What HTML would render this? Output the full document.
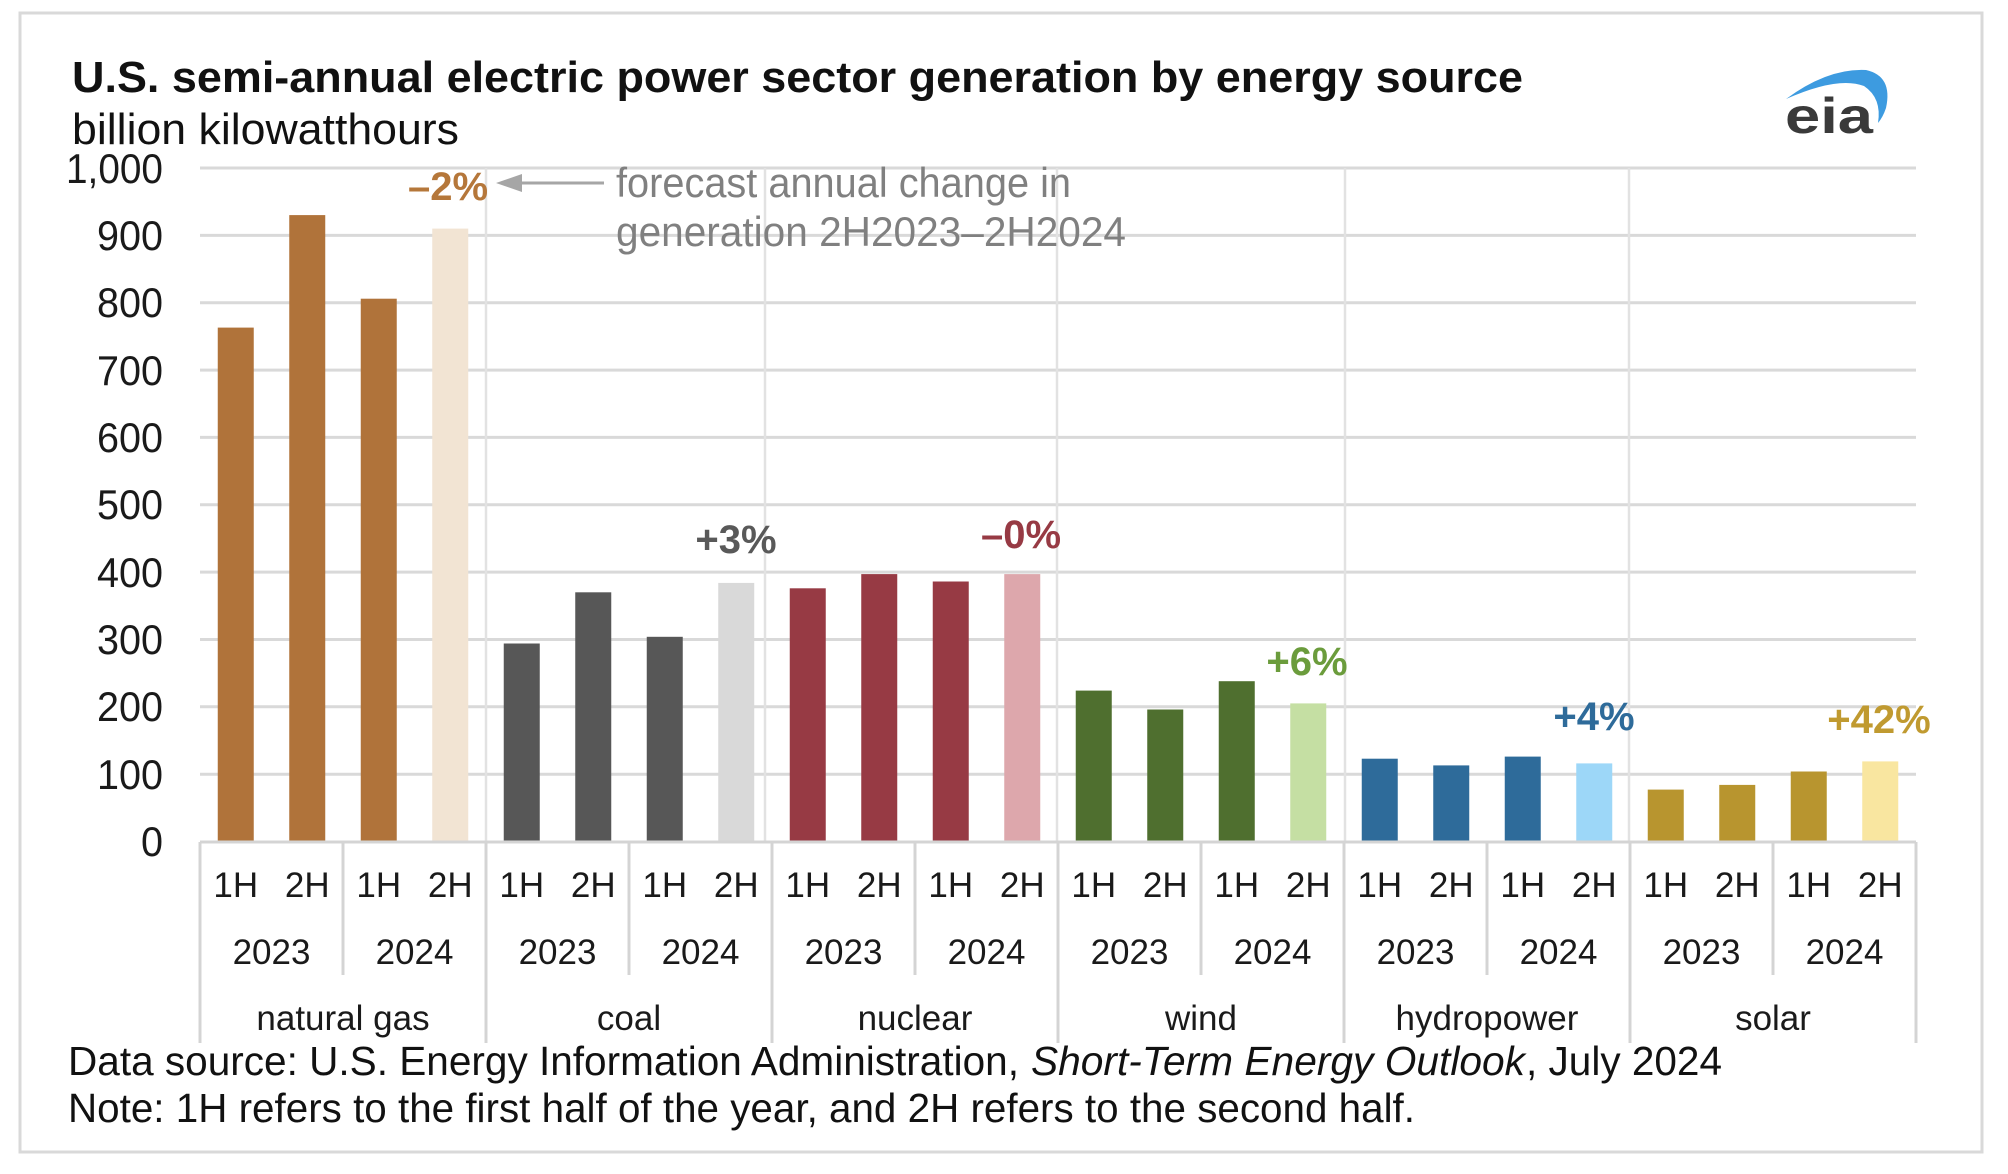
<!DOCTYPE html>
<html><head><meta charset="utf-8"><style>
html,body{margin:0;padding:0;background:#fff;}
svg{display:block;}
text{font-family:"Liberation Sans",Arial,sans-serif;}
</style></head><body>
<svg width="2008" height="1174" viewBox="0 0 2008 1174" xmlns="http://www.w3.org/2000/svg">
<rect x="0" y="0" width="2008" height="1174" fill="#fff"/>
<rect x="20" y="13" width="1962" height="1139" fill="#fff" stroke="#d9d9d9" stroke-width="3"/>

<!-- title -->
<text x="72" y="92" font-size="44" font-weight="bold" fill="#111" textLength="1451" lengthAdjust="spacingAndGlyphs">U.S. semi-annual electric power sector generation by energy source</text>
<text x="72" y="144" font-size="44" fill="#111" textLength="387" lengthAdjust="spacingAndGlyphs">billion kilowatthours</text>

<!-- eia logo -->
<path d="M1786,99 Q1828,68 1866,70 Q1893,76 1886,108 Q1883,117 1878,123 Q1882,98 1864,86 Q1838,76 1786,99 Z" fill="#3d9be0"/>
<text x="1785" y="133" font-size="50" font-weight="bold" fill="#3a3a3a" textLength="88" lengthAdjust="spacingAndGlyphs">eia</text>

<!-- horizontal gridlines -->
<g stroke="#d9d9d9" stroke-width="3">
<line x1="200" y1="168" x2="1916" y2="168"/>
<line x1="200" y1="235.4" x2="1916" y2="235.4"/>
<line x1="200" y1="302.7" x2="1916" y2="302.7"/>
<line x1="200" y1="370.1" x2="1916" y2="370.1"/>
<line x1="200" y1="437.4" x2="1916" y2="437.4"/>
<line x1="200" y1="504.8" x2="1916" y2="504.8"/>
<line x1="200" y1="572.1" x2="1916" y2="572.1"/>
<line x1="200" y1="639.5" x2="1916" y2="639.5"/>
<line x1="200" y1="706.8" x2="1916" y2="706.8"/>
<line x1="200" y1="774.2" x2="1916" y2="774.2"/>
</g>
<!-- vertical gridlines in plot -->
<g stroke="#e2e2e2" stroke-width="2.5">
<line x1="486" y1="168" x2="486" y2="842"/>
<line x1="765" y1="168" x2="765" y2="842"/>
<line x1="1057" y1="168" x2="1057" y2="842"/>
<line x1="1345" y1="168" x2="1345" y2="842"/>
<line x1="1629" y1="168" x2="1629" y2="842"/>
</g>

<!-- y labels -->
<g font-size="42" fill="#1a1a1a" text-anchor="end">
<text x="163" y="183" textLength="97" lengthAdjust="spacingAndGlyphs">1,000</text>
<text x="163" y="250" textLength="66" lengthAdjust="spacingAndGlyphs">900</text>
<text x="163" y="317" textLength="66" lengthAdjust="spacingAndGlyphs">800</text>
<text x="163" y="385" textLength="66" lengthAdjust="spacingAndGlyphs">700</text>
<text x="163" y="452" textLength="66" lengthAdjust="spacingAndGlyphs">600</text>
<text x="163" y="519" textLength="66" lengthAdjust="spacingAndGlyphs">500</text>
<text x="163" y="587" textLength="66" lengthAdjust="spacingAndGlyphs">400</text>
<text x="163" y="654" textLength="66" lengthAdjust="spacingAndGlyphs">300</text>
<text x="163" y="721" textLength="66" lengthAdjust="spacingAndGlyphs">200</text>
<text x="163" y="789" textLength="66" lengthAdjust="spacingAndGlyphs">100</text>
<text x="163" y="856" textLength="22" lengthAdjust="spacingAndGlyphs">0</text>
</g>

<!-- bars -->
<g>
<rect x="217.75" y="327.6" width="36" height="514.4" fill="#b0733a"/>
<rect x="289.25" y="215.1" width="36" height="626.9" fill="#b0733a"/>
<rect x="360.75" y="298.7" width="36" height="543.3" fill="#b0733a"/>
<rect x="432.25" y="228.6" width="36" height="613.4" fill="#f2e4d3"/>

<rect x="503.75" y="643.5" width="36" height="198.5" fill="#575757"/>
<rect x="575.25" y="592.3" width="36" height="249.7" fill="#575757"/>
<rect x="646.75" y="636.8" width="36" height="205.2" fill="#575757"/>
<rect x="718.25" y="582.9" width="36" height="259.1" fill="#d9d9d9"/>

<rect x="789.75" y="588.3" width="36" height="253.7" fill="#973a44"/>
<rect x="861.25" y="574.1" width="36" height="267.9" fill="#973a44"/>
<rect x="932.75" y="581.5" width="36" height="260.5" fill="#973a44"/>
<rect x="1004.25" y="574.1" width="36" height="267.9" fill="#dda7ac"/>

<rect x="1075.75" y="690.6" width="36" height="151.4" fill="#4f6f2f"/>
<rect x="1147.25" y="709.5" width="36" height="132.5" fill="#4f6f2f"/>
<rect x="1218.75" y="681.2" width="36" height="160.8" fill="#4f6f2f"/>
<rect x="1290.25" y="703.4" width="36" height="138.6" fill="#c5dfa3"/>

<rect x="1361.75" y="758.7" width="36" height="83.3" fill="#2e6b9a"/>
<rect x="1433.25" y="765.4" width="36" height="76.6" fill="#2e6b9a"/>
<rect x="1504.75" y="756.6" width="36" height="85.4" fill="#2e6b9a"/>
<rect x="1576.25" y="763.4" width="36" height="78.6" fill="#9dd7f8"/>

<rect x="1647.75" y="789.6" width="36" height="52.4" fill="#b8952f"/>
<rect x="1719.25" y="784.9" width="36" height="57.1" fill="#b8952f"/>
<rect x="1790.75" y="771.5" width="36" height="70.5" fill="#b8952f"/>
<rect x="1862.25" y="761.4" width="36" height="80.6" fill="#f9e6a0"/>
</g>

<!-- axis line and ticks -->
<g stroke="#d4d4d4" stroke-width="3">
<line x1="200" y1="842" x2="1916" y2="842"/>
<line x1="200" y1="842" x2="200" y2="1043"/>
<line x1="486" y1="842" x2="486" y2="1043"/>
<line x1="772" y1="842" x2="772" y2="1043"/>
<line x1="1058" y1="842" x2="1058" y2="1043"/>
<line x1="1344" y1="842" x2="1344" y2="1043"/>
<line x1="1630" y1="842" x2="1630" y2="1043"/>
<line x1="1916" y1="842" x2="1916" y2="1043"/>
<line x1="343" y1="842" x2="343" y2="975"/>
<line x1="629" y1="842" x2="629" y2="975"/>
<line x1="915" y1="842" x2="915" y2="975"/>
<line x1="1201" y1="842" x2="1201" y2="975"/>
<line x1="1487" y1="842" x2="1487" y2="975"/>
<line x1="1773" y1="842" x2="1773" y2="975"/>
</g>

<!-- x labels -->
<g font-size="35" fill="#1a1a1a" text-anchor="middle">
<text x="235.75" y="897">1H</text><text x="307.25" y="897">2H</text><text x="378.75" y="897">1H</text><text x="450.25" y="897">2H</text>
<text x="521.75" y="897">1H</text><text x="593.25" y="897">2H</text><text x="664.75" y="897">1H</text><text x="736.25" y="897">2H</text>
<text x="807.75" y="897">1H</text><text x="879.25" y="897">2H</text><text x="950.75" y="897">1H</text><text x="1022.25" y="897">2H</text>
<text x="1093.75" y="897">1H</text><text x="1165.25" y="897">2H</text><text x="1236.75" y="897">1H</text><text x="1308.25" y="897">2H</text>
<text x="1379.75" y="897">1H</text><text x="1451.25" y="897">2H</text><text x="1522.75" y="897">1H</text><text x="1594.25" y="897">2H</text>
<text x="1665.75" y="897">1H</text><text x="1737.25" y="897">2H</text><text x="1808.75" y="897">1H</text><text x="1880.25" y="897">2H</text>

<text x="271.5" y="964">2023</text><text x="414.5" y="964">2024</text>
<text x="557.5" y="964">2023</text><text x="700.5" y="964">2024</text>
<text x="843.5" y="964">2023</text><text x="986.5" y="964">2024</text>
<text x="1129.5" y="964">2023</text><text x="1272.5" y="964">2024</text>
<text x="1415.5" y="964">2023</text><text x="1558.5" y="964">2024</text>
<text x="1701.5" y="964">2023</text><text x="1844.5" y="964">2024</text>

<text x="343" y="1030">natural gas</text>
<text x="629" y="1030">coal</text>
<text x="915" y="1030">nuclear</text>
<text x="1201" y="1030">wind</text>
<text x="1487" y="1030">hydropower</text>
<text x="1773" y="1030">solar</text>
</g>

<!-- percent labels -->
<g font-size="40" font-weight="bold" text-anchor="middle">
<text x="448" y="200" fill="#b5773a">–2%</text>
<text x="736" y="553" fill="#595959">+3%</text>
<text x="1021" y="548" fill="#973a44">–0%</text>
<text x="1307" y="675" fill="#6b9c3c">+6%</text>
<text x="1594" y="730" fill="#2e6b9a">+4%</text>
<text x="1879" y="733" fill="#c09a30">+42%</text>
</g>

<!-- annotation -->
<line x1="512" y1="183" x2="604" y2="183" stroke="#a6a6a6" stroke-width="3"/>
<polygon points="496,183 522,174 522,192" fill="#a6a6a6"/>
<g font-size="42" fill="#808080">
<text x="616" y="197" textLength="455" lengthAdjust="spacingAndGlyphs">forecast annual change in</text>
<text x="616" y="246" textLength="510" lengthAdjust="spacingAndGlyphs">generation 2H2023–2H2024</text>
</g>

<!-- footer -->
<g font-size="41" fill="#111">
<text x="68" y="1075" textLength="951" lengthAdjust="spacingAndGlyphs">Data source: U.S. Energy Information Administration,</text>
<text x="1031" y="1075" font-style="italic" textLength="494" lengthAdjust="spacingAndGlyphs">Short-Term Energy Outlook</text>
<text x="1526" y="1075" textLength="196" lengthAdjust="spacingAndGlyphs">, July 2024</text>
<text x="68" y="1122" textLength="1347" lengthAdjust="spacingAndGlyphs">Note: 1H refers to the first half of the year, and 2H refers to the second half.</text>
</g>
</svg>
</body></html>
